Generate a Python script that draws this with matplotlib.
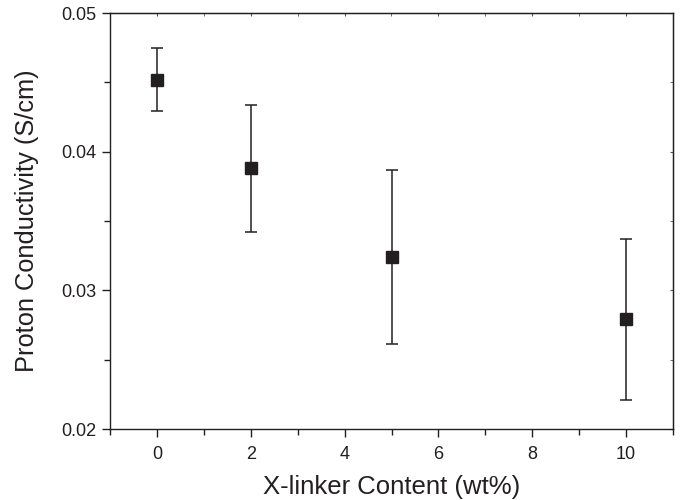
import matplotlib
matplotlib.use("Agg")
import matplotlib.pyplot as plt
from matplotlib.ticker import MultipleLocator

plt.rcParams['font.family'] = ['Liberation Sans', 'DejaVu Sans']

content = [0, 2, 5, 10]
conductivity = [0.0452, 0.0388, 0.0324, 0.0279]
err = [0.0023, 0.0046, 0.0063, 0.0058]
x_ticks = [0, 2, 4, 6, 8, 10]
y_ticks = [0.02, 0.03, 0.04, 0.05]

fig = plt.figure(figsize=(6.81, 5.0), dpi=100)
ax = fig.add_axes([110/681, 1 - 429/500, (673-110)/681, (429-13)/500])

ax.errorbar(content, conductivity, yerr=err, fmt='s', color='#231f20',
            markersize=9, ecolor='#231f20', elinewidth=1.1, capsize=4,
            capthick=1.1)

ax.set_xlim(-1, 11)
ax.set_ylim(0.02, 0.05)
ax.set_xticks(x_ticks)
ax.set_yticks(y_ticks)
ax.set_yticklabels([f"{v:.2f}" for v in y_ticks])
ax.xaxis.set_minor_locator(MultipleLocator(1))
ax.yaxis.set_minor_locator(MultipleLocator(0.005))

ax.tick_params(axis='both', which='major', direction='out', length=6, width=1,
               labelsize=13, color='#231f20', labelcolor='#231f20')
ax.tick_params(axis='x', which='major', pad=6)
ax.tick_params(axis='both', which='minor', direction='out', length=4, width=1,
               color='#231f20')
ax.tick_params(axis='both', which='both', top=False, right=False)

# small inward ticks on top and right
secx = ax.secondary_xaxis('top')
secx.set_xticks(x_ticks)
secx.xaxis.set_minor_locator(MultipleLocator(1))
secx.tick_params(which='both', direction='in', length=2, labeltop=False, color='#555555')
secx.set_xticklabels([])
secy = ax.secondary_yaxis('right')
secy.set_yticks(y_ticks)
secy.yaxis.set_minor_locator(MultipleLocator(0.005))
secy.tick_params(which='both', direction='in', length=2, labelright=False, color='#555555')
secy.set_yticklabels([])

for s in ax.spines.values():
    s.set_linewidth(1.0)
    s.set_color('#231f20')

ax.set_xlabel('X-linker Content (wt%)', fontsize=18.5, color='#231f20', labelpad=9)
ax.set_ylabel('Proton Conductivity (S/cm)', fontsize=18.3, color='#231f20', labelpad=16)

fig.savefig('out.png', dpi=100)
